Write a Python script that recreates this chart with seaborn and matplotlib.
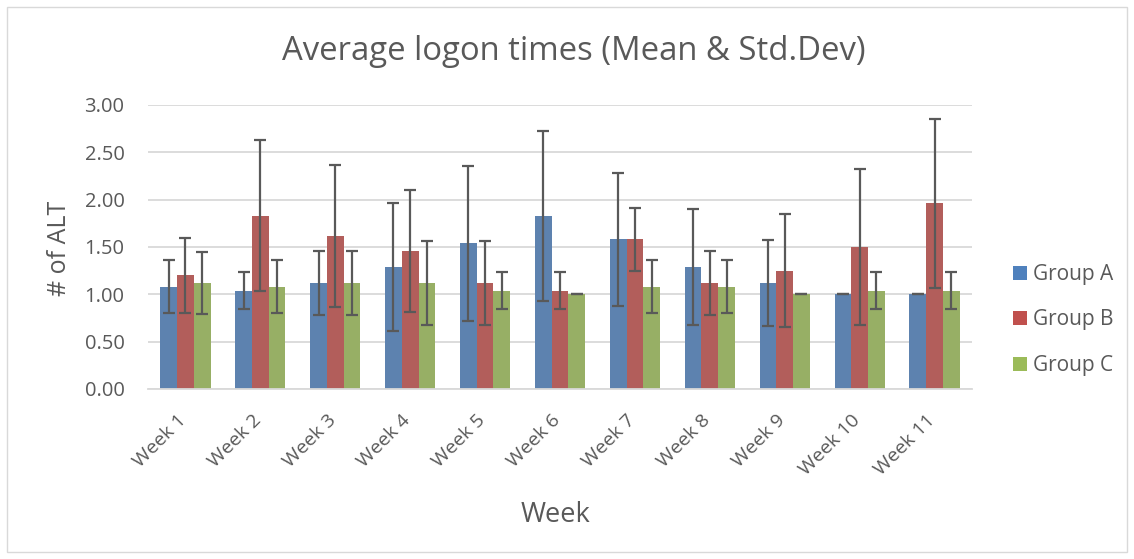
import numpy as np
import pandas as pd
import seaborn as sns
import matplotlib.pyplot as plt
import matplotlib.transforms as mtransforms
from matplotlib.patches import Rectangle, Patch

weeks = ["Week 1", "Week 2", "Week 3", "Week 4", "Week 5", "Week 6",
         "Week 7", "Week 8", "Week 9", "Week 10", "Week 11"]
groups = ["Group A", "Group B", "Group C"]
mean_a = [1.08, 1.04, 1.12, 1.29, 1.54, 1.83, 1.58, 1.29, 1.12, 1.00, 1.00]
mean_b = [1.20, 1.83, 1.62, 1.46, 1.12, 1.04, 1.58, 1.12, 1.25, 1.50, 1.96]
mean_c = [1.12, 1.08, 1.12, 1.12, 1.04, 1.00, 1.08, 1.08, 1.00, 1.04, 1.04]
sd_a = [0.28, 0.20, 0.34, 0.68, 0.82, 0.90, 0.70, 0.61, 0.45, 0.00, 0.00]
sd_b = [0.40, 0.80, 0.75, 0.645, 0.44, 0.20, 0.33, 0.34, 0.60, 0.82, 0.89]
sd_c = [0.33, 0.28, 0.34, 0.44, 0.20, 0.00, 0.28, 0.28, 0.00, 0.20, 0.20]
colors = ["#4F81BD", "#C0504D", "#9BBB59"]

df = pd.DataFrame({
    "Week": weeks * 3,
    "Group": [g for g in groups for _ in weeks],
    "Mean": mean_a + mean_b + mean_c,
    "SD": sd_a + sd_b + sd_c,
})

sns.set_style("white")
plt.rcParams["font.family"] = ["Open Sans", "DejaVu Sans"]
txt = "#595959"

W, H = 1134, 559
fig = plt.figure(figsize=(W / 100, H / 100), dpi=100)
ax = fig.add_axes([148 / W, 1 - 389 / H, 824 / W, 284 / H])

sns.barplot(data=df, x="Week", y="Mean", hue="Group", palette=colors,
            errorbar=None, width=0.67, ax=ax, legend=False, zorder=2,
            edgecolor="none", linewidth=0)

# error bars placed at centres of the drawn bars
for cont, g in zip(ax.containers, groups):
    sub = df[df["Group"] == g]
    xs = [p.get_x() + p.get_width() / 2 for p in cont.patches]
    ax.errorbar(xs, sub["Mean"].values, yerr=sub["SD"].values, fmt="none",
                ecolor="#595959", elinewidth=1.6, capsize=4.5, capthick=1.6,
                zorder=3)

ax.set_ylim(0, 3.0)
ax.set_xlim(-0.5, len(weeks) - 0.5)
ticks = np.arange(0, 3.01, 0.5)
ax.set_yticks(ticks)
ax.set_yticklabels([f"{v:.2f}" for v in ticks])
ax.yaxis.grid(True, color="#D9D9D9", linewidth=1.3, zorder=0)
ax.set_axisbelow(True)
for s in ["top", "right", "left"]:
    ax.spines[s].set_visible(False)
ax.spines["bottom"].set_color("#D9D9D9")
ax.spines["bottom"].set_linewidth(1.3)
ax.tick_params(axis="both", length=0, colors=txt)
ax.tick_params(axis="y", labelsize=14.5, pad=17)
ax.tick_params(axis="x", labelsize=14, pad=16)
offset = mtransforms.ScaledTranslation(4 / 100, 0, fig.dpi_scale_trans)
for lab in ax.get_xticklabels():
    lab.set_rotation(45)
    lab.set_ha("right")
    lab.set_va("top")
    lab.set_transform(lab.get_transform() + offset)

ax.set_xlabel("")
ax.set_ylabel("")
fig.text(574 / W, 1 - 60 / H, "Average logon times (Mean & Std.Dev)",
         ha="center", va="baseline", fontsize=23.7, color=txt)
fig.text(59 / W, 1 - 248 / H, "# of ALT", rotation=90, ha="center",
         va="center", fontsize=18, color=txt)
fig.text(555 / W, 1 - 522 / H, "Week", ha="center", va="baseline",
         fontsize=19.5, color=txt)

fs_leg = 15
em = fs_leg * 100 / 72
handles = [Patch(facecolor=c, edgecolor="none") for c in colors]
fig.legend(handles, groups, loc="center left",
           bbox_to_anchor=(1013 / W, 1 - 320 / H), frameon=False,
           fontsize=fs_leg, labelcolor=txt, handlelength=14 / em,
           handleheight=14 / em, handletextpad=6 / em, labelspacing=1.18,
           borderpad=0, borderaxespad=0)

fig.patches.append(Rectangle((7 / W, 7 / H), 1120 / W, 545 / H,
                             transform=fig.transFigure, fill=False,
                             edgecolor="#D9D9D9", linewidth=1.0))

fig.savefig("out.png", dpi=100, facecolor="white")
